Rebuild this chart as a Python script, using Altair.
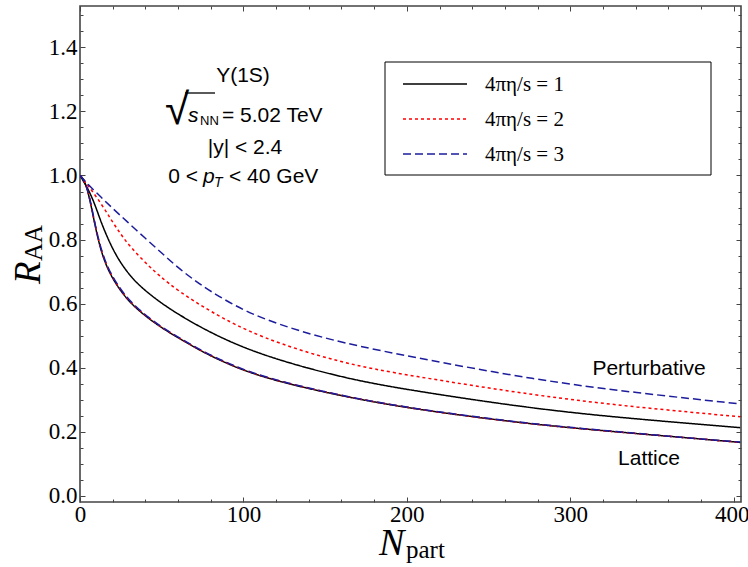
import altair as alt
import pandas as pd

# ---------------- data ----------------
# Perturbative potential
N_pert_1 = [0, 5, 9, 13, 19, 25, 33, 42, 50, 60, 80, 110, 160, 200, 280, 340, 404]
R_pert_1 = [1.0, 0.958, 0.912, 0.852, 0.780, 0.725, 0.672, 0.632, 0.601, 0.567, 0.508, 0.440, 0.369, 0.331, 0.270, 0.240, 0.213]
N_pert_2 = [0, 5, 13, 19, 25, 31, 40, 48, 60, 80, 110, 160, 200, 280, 340, 404]
R_pert_2 = [1.0, 0.969, 0.912, 0.862, 0.816, 0.776, 0.728, 0.689, 0.640, 0.574, 0.494, 0.414, 0.377, 0.312, 0.277, 0.247]
N_pert_3 = [0, 5, 13, 19, 29, 40, 50, 60, 70, 80, 95, 110, 135, 160, 200, 280, 340, 404]
R_pert_3 = [1.0, 0.971, 0.932, 0.902, 0.855, 0.804, 0.758, 0.712, 0.673, 0.638, 0.593, 0.557, 0.513, 0.479, 0.436, 0.361, 0.322, 0.287]
# Lattice potential
N_latt = [0, 2, 4, 6, 8, 10, 13, 17, 23, 31, 42, 52, 60, 72, 85, 110, 160, 200, 240, 280, 330, 370, 404]
R_latt_1 = [1.0, 0.99, 0.965, 0.925, 0.875, 0.825, 0.762, 0.706, 0.652, 0.600, 0.553, 0.518, 0.494, 0.458, 0.424, 0.370, 0.311, 0.275, 0.247, 0.222, 0.199, 0.182, 0.167]
R_latt_2 = [1.0, 0.99, 0.966, 0.927, 0.877, 0.827, 0.765, 0.709, 0.655, 0.602, 0.555, 0.519, 0.495, 0.459, 0.425, 0.371, 0.312, 0.275, 0.247, 0.222, 0.199, 0.182, 0.167]
R_latt_3 = [1.0, 0.99, 0.967, 0.929, 0.879, 0.829, 0.767, 0.711, 0.657, 0.604, 0.556, 0.520, 0.496, 0.460, 0.426, 0.372, 0.312, 0.276, 0.248, 0.223, 0.200, 0.182, 0.168]

x_major = [0, 100, 200, 300]
x_last = [400]
x_ticks = [0, 100, 200, 300, 400]
x_minor = [20, 40, 60, 80, 120, 140, 160, 180, 220, 240, 260, 280, 320, 340, 360, 380]
y_major = [0.0, 0.2, 0.4, 0.6, 0.8, 1.0, 1.2, 1.4]
y_minor = [0.05, 0.1, 0.15, 0.25, 0.3, 0.35, 0.45, 0.5, 0.55, 0.65, 0.7, 0.75,
           0.85, 0.9, 0.95, 1.05, 1.1, 1.15, 1.25, 1.3, 1.35, 1.45, 1.5]

legend_labels = ["4πη/s = 1", "4πη/s = 2", "4πη/s = 3"]

rows = []
def add(model, eta, Ns, Rs):
    for n, r in zip(Ns, Rs):
        rows.append({"N": n, "R": r, "model": model, "eta": eta})

add("pert", 1, N_pert_1, R_pert_1)
add("pert", 2, N_pert_2, R_pert_2)
add("pert", 3, N_pert_3, R_pert_3)
add("latt", 1, N_latt, R_latt_1)
add("latt", 2, N_latt, R_latt_2)
add("latt", 3, N_latt, R_latt_3)
df = pd.DataFrame(rows)

xs = alt.Scale(domain=[0, 404.5], nice=False, zero=False)
ys = alt.Scale(domain=[-0.019, 1.529], nice=False, zero=False)

BLUE = "#1c1c9c"
FRAME = "#444444"
SERIF = "Liberation Serif"
SANS = "Liberation Sans"
LBL = 23

def line_layer(eta, color, dash):
    return alt.Chart(df).transform_filter(alt.datum.eta == eta).mark_line(
        color=color, strokeDash=dash, strokeWidth=1.5, interpolate="basis", clip=True
    ).encode(
        x=alt.X("N:Q", scale=xs, axis=None),
        y=alt.Y("R:Q", scale=ys, axis=None),
        detail="model:N",
    )

def axis_layer(xaxis=None, yaxis=None):
    return alt.Chart(df).mark_point(opacity=0).encode(
        x=alt.X("N:Q", scale=xs, axis=xaxis),
        y=alt.Y("R:Q", scale=ys, axis=yaxis),
    )

def tick_axis(orient, values, size):
    return alt.Axis(orient=orient, values=values, labels=False, domain=False, grid=False,
                    ticks=True, tickSize=size, tickColor=FRAME, tickWidth=1,
                    offset=-size, title=None)

def xlabel_axis(values, shift):
    return alt.Axis(orient="bottom", values=values, ticks=False, domain=False, grid=False,
                    labelFont=SERIF, labelFontSize=LBL, labelColor="black", labelPadding=1,
                    labelOffset=shift, title=None, format="d", labelFlush=False)

layers = []
# axes with labels
layers.append(axis_layer(
    xaxis=xlabel_axis(x_major, 0),
    yaxis=alt.Axis(orient="left", values=y_major, ticks=False, domain=False, grid=False,
                   labelFont=SERIF, labelFontSize=LBL, labelColor="black", labelPadding=3,
                   title=None, format=".1f", labelFlush=False)))
layers.append(axis_layer(xaxis=xlabel_axis(x_last, -2)))
# inward ticks on all four sides
for orient in ["bottom", "top"]:
    layers.append(axis_layer(xaxis=tick_axis(orient, x_ticks, 5)))
    layers.append(axis_layer(xaxis=tick_axis(orient, x_minor, 3)))
for orient in ["left", "right"]:
    layers.append(axis_layer(yaxis=tick_axis(orient, y_major, 5)))
    layers.append(axis_layer(yaxis=tick_axis(orient, y_minor, 3)))

# curves
layers.append(line_layer(1, "black", [1, 0]))
layers.append(line_layer(2, "#ff0000", [3, 3]))
layers.append(line_layer(3, BLUE, [8, 4]))

one = pd.DataFrame({"a": [0]})

def txt(text, x, y, size=21, font=SANS, style="normal", align="left", angle=0, color="black"):
    kw = dict(text=text, fontSize=size, font=font, fontStyle=style, align=align,
              baseline="alphabetic", color=color)
    if angle:
        kw["angle"] = angle
    return alt.Chart(one).mark_text(**kw).encode(x=alt.value(x), y=alt.value(y))

# info block
layers.append(txt("Y(1S)", 163, 76, align="center"))
layers.append(txt("√", 85, 118, size=44, font=SANS))
layers.append(alt.Chart(one).mark_rule(color="black", strokeWidth=1.3).encode(
    x=alt.value(105), x2=alt.value(135), y=alt.value(87)))
layers.append(txt("s", 108, 116, style="italic"))
layers.append(txt("NN", 120, 119, size=13))
layers.append(txt("= 5.02 TeV", 142, 116))
layers.append(txt("|y| < 2.4", 165, 148, align="center"))
layers.append(txt("0 <", 118, 177, align="right"))
layers.append(txt("p", 123, 177, style="italic"))
layers.append(txt("T", 134, 181, size=14, style="italic"))
layers.append(txt("< 40 GeV", 149, 177))
layers.append(txt("Perturbative", 569, 369, align="center"))
layers.append(txt("Lattice", 569, 459, align="center"))

# legend
layers.append(alt.Chart(one).mark_rect(fill="white", stroke="black", strokeWidth=1).encode(
    x=alt.value(305), x2=alt.value(631), y=alt.value(56), y2=alt.value(169)))
leg_styles = [("black", [1, 0]), ("#ff0000", [3, 3]), (BLUE, [8, 4])]
for i, (lab, (col, dash)) in enumerate(zip(legend_labels, leg_styles)):
    yy = 78 + 35 * i
    layers.append(alt.Chart(one).mark_rule(color=col, strokeDash=dash, strokeWidth=1.5).encode(
        x=alt.value(323), x2=alt.value(387), y=alt.value(yy)))
    layers.append(txt(lab, 405, yy + 7, size=21, font=SERIF))

# axis titles
layers.append(txt("R", -40, 278, size=37, font=SERIF, style="italic", angle=270))
layers.append(txt("AA", -38, 255, size=25, font=SERIF, angle=270))
layers.append(txt("N", 299, 549, size=38, font=SERIF, style="italic"))
layers.append(txt("part", 326, 552, size=25, font=SERIF))

chart = alt.layer(*layers).resolve_axis(x="independent", y="independent").properties(
    width=661, height=496,
    padding={"left": 80, "top": 6, "right": 7, "bottom": 65},
    autosize=alt.AutoSizeParams(type="none"),
    background="white",
).configure_view(stroke=FRAME, strokeWidth=1.6)

chart.save("out.html", embed_options={"renderer": "svg", "actions": False})
